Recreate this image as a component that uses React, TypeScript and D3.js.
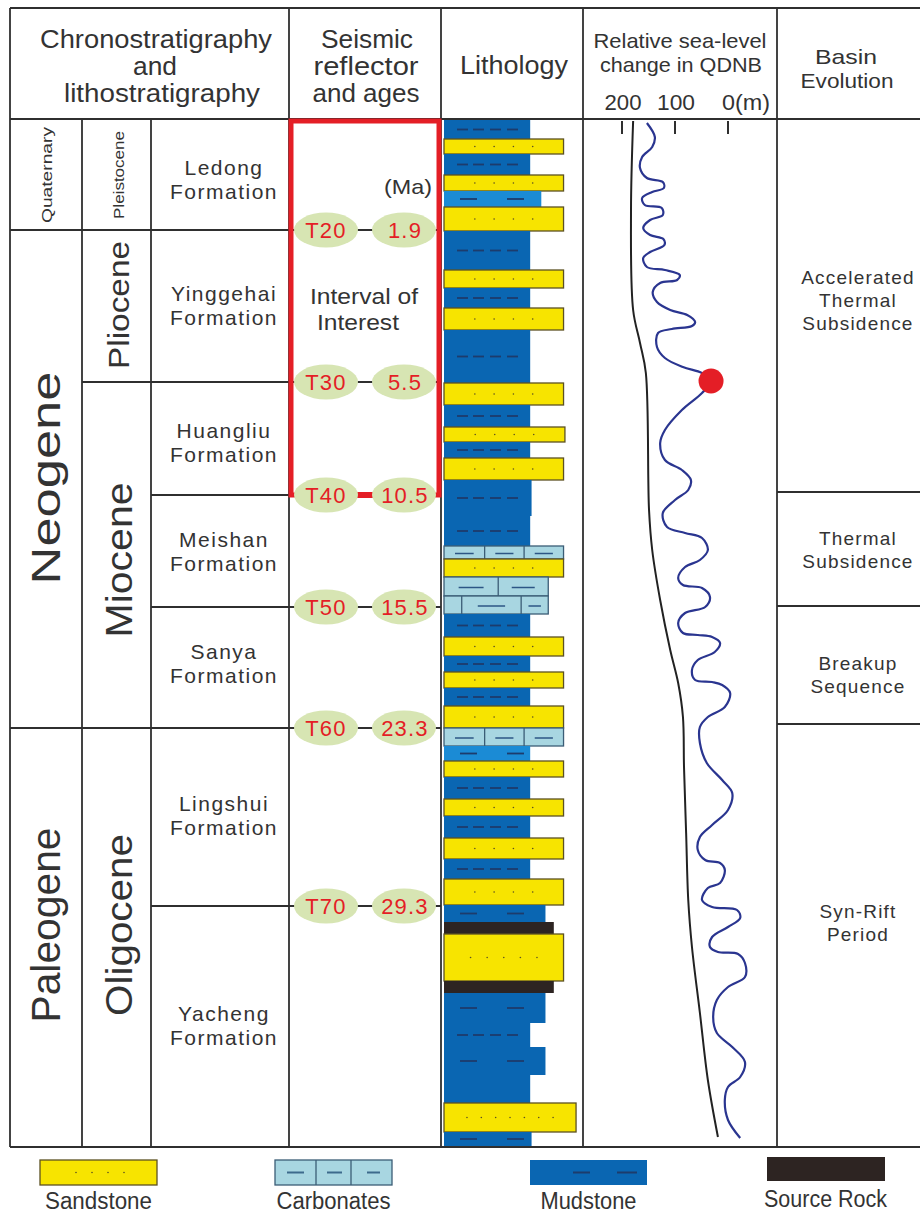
import React from 'react';
import * as d3 from 'd3';

// ---------- DATA (vertical positions in column units, 0 = top of column, 1028 = base) ----------
const periods = [
  { name: 'Quaternary', top: 0, base: 111, labelAt: 56, size: 15, len: 96 },
  { name: 'Neogene', top: 111, base: 609, labelAt: 359, size: 40, len: 213 },
  { name: 'Paleogene', top: 609, base: 1028, labelAt: 806, size: 40, len: 195 },
];
const epochs = [
  { name: 'Pleistocene', top: 0, base: 111, labelAt: 56, size: 14, len: 88 },
  { name: 'Pliocene', top: 111, base: 263, labelAt: 186, size: 29, len: 128 },
  { name: 'Miocene', top: 263, base: 609, labelAt: 441, size: 37, len: 155 },
  { name: 'Oligocene', top: 609, base: 1028, labelAt: 806, size: 37, len: 182 },
];
const formations = [
  { name: 'Ledong', top: 0, base: 111, labelAt: 61 },
  { name: 'Yinggehai', top: 111, base: 263, labelAt: 187 },
  { name: 'Huangliu', top: 263, base: 376, labelAt: 324 },
  { name: 'Meishan', top: 376, base: 488, labelAt: 433 },
  { name: 'Sanya', top: 488, base: 609, labelAt: 545 },
  { name: 'Lingshui', top: 609, base: 787, labelAt: 697 },
  { name: 'Yacheng', top: 787, base: 1028, labelAt: 907 },
];
const reflectors = [
  { name: 'T20', depth: 111, age: '1.9' },
  { name: 'T30', depth: 263, age: '5.5' },
  { name: 'T40', depth: 376, age: '10.5' },
  { name: 'T50', depth: 488, age: '15.5' },
  { name: 'T60', depth: 609, age: '23.3' },
  { name: 'T70', depth: 787, age: '29.3' },
];
const interval = { top: 2, base: 376 };
const basinStages = [
  { lines: ['Accelerated', 'Thermal', 'Subsidence'], top: 0, base: 373, labelAt: 181 },
  { lines: ['Thermal', 'Subsidence'], top: 373, base: 487, labelAt: 430 },
  { lines: ['Breakup', 'Sequence'], top: 487, base: 605, labelAt: 555 },
  { lines: ['Syn-Rift', 'Period'], top: 605, base: 1028, labelAt: 803 },
];
// lithology beds: rock type, top, base, relative width (grain size), mud dash count / carbonate cells
const beds = [
  { rock: 'mud', top: 1, base: 20, w: 0.62, n: 4 },
  { rock: 'sand', top: 20, base: 35, w: 0.86, n: 4 },
  { rock: 'mud', top: 35, base: 56, w: 0.62, n: 4 },
  { rock: 'sand', top: 56, base: 72, w: 0.86, n: 4 },
  { rock: 'mudL', top: 72, base: 88, w: 0.7, n: 2 },
  { rock: 'sand', top: 88, base: 112, w: 0.86, n: 4 },
  { rock: 'mud', top: 112, base: 151, w: 0.62, n: 4 },
  { rock: 'sand', top: 151, base: 169, w: 0.86, n: 4 },
  { rock: 'mud', top: 169, base: 189, w: 0.62, n: 4 },
  { rock: 'sand', top: 189, base: 211, w: 0.86, n: 4 },
  { rock: 'mud', top: 211, base: 264, w: 0.62, n: 4 },
  { rock: 'sand', top: 264, base: 286, w: 0.86, n: 4 },
  { rock: 'mud', top: 286, base: 308, w: 0.62, n: 4 },
  { rock: 'sand', top: 308, base: 323, w: 0.87, n: 4 },
  { rock: 'mud', top: 323, base: 339, w: 0.62, n: 4 },
  { rock: 'sand', top: 339, base: 361, w: 0.86, n: 4 },
  { rock: 'mud', top: 361, base: 397, w: 0.63, n: 4 },
  { rock: 'mud', top: 397, base: 427, w: 0.62, n: 4 },
  { rock: 'carb', top: 427, base: 440, w: 0.86, n: 3 },
  { rock: 'sand', top: 440, base: 458, w: 0.86, n: 4 },
  { rock: 'carb', top: 458, base: 477, w: 0.75, n: 2 },
  { rock: 'carb', top: 477, base: 495, w: 0.75, n: 3 },
  { rock: 'mud', top: 495, base: 518, w: 0.62, n: 4 },
  { rock: 'sand', top: 518, base: 537, w: 0.86, n: 4 },
  { rock: 'mud', top: 537, base: 553, w: 0.62, n: 4 },
  { rock: 'sand', top: 553, base: 569, w: 0.86, n: 4 },
  { rock: 'mud', top: 569, base: 587, w: 0.62, n: 4 },
  { rock: 'sand', top: 587, base: 609, w: 0.86, n: 4 },
  { rock: 'carb', top: 609, base: 627, w: 0.86, n: 3 },
  { rock: 'mudL', top: 627, base: 642, w: 0.62, n: 2 },
  { rock: 'sand', top: 642, base: 658, w: 0.86, n: 4 },
  { rock: 'mud', top: 658, base: 680, w: 0.62, n: 4 },
  { rock: 'sand', top: 680, base: 697, w: 0.86, n: 4 },
  { rock: 'mud', top: 697, base: 719, w: 0.62, n: 4 },
  { rock: 'sand', top: 719, base: 740, w: 0.86, n: 4 },
  { rock: 'mud', top: 740, base: 760, w: 0.62, n: 4 },
  { rock: 'sand', top: 760, base: 786, w: 0.86, n: 4 },
  { rock: 'mud', top: 786, base: 803, w: 0.73, n: 2 },
  { rock: 'src', top: 803, base: 815, w: 0.79, n: 0 },
  { rock: 'sand', top: 815, base: 862, w: 0.86, n: 5 },
  { rock: 'src', top: 862, base: 874, w: 0.79, n: 0 },
  { rock: 'mud', top: 874, base: 904, w: 0.73, n: 2 },
  { rock: 'mud', top: 904, base: 928, w: 0.62, n: 4 },
  { rock: 'mud', top: 928, base: 956, w: 0.73, n: 2 },
  { rock: 'mud', top: 956, base: 984, w: 0.62, n: 0 },
  { rock: 'sand', top: 984, base: 1013, w: 0.95, n: 7 },
  { rock: 'mud', top: 1013, base: 1027, w: 0.63, n: 2 },
];
// relative sea-level (m) vs column position
const seaLevelCurve: [number, number][] = [
  [4, 153], [18, 138], [28, 143], [38, 162], [49, 166], [59, 153], [63, 123], [69, 121], [73, 143],
  [79, 162], [86, 157], [89, 125], [96, 123], [101, 147], [109, 160], [116, 147], [120, 122], [126, 120],
  [133, 147], [139, 160], [148, 153], [151, 119], [156, 91], [161, 96], [164, 128], [173, 142],
  [183, 134], [191, 109], [196, 77], [203, 62], [207, 68], [210, 106], [214, 132], [228, 134],
  [239, 119], [248, 85], [254, 49], [262, 32], [274, 49], [291, 87], [311, 119], [324, 128],
  [341, 119], [351, 87], [361, 70], [371, 75], [381, 100], [394, 123], [408, 115], [414, 81],
  [419, 49], [431, 38], [441, 53], [448, 81], [459, 94], [466, 85], [469, 49], [478, 34], [488, 43],
  [494, 81], [504, 94], [514, 85], [516, 57], [518, 30], [524, 15], [533, 25], [541, 57], [551, 68],
  [561, 62], [563, 30], [566, 11], [574, -4], [588, 6], [598, 38], [608, 53], [624, 53], [644, 40],
  [661, 11], [674, -8], [691, 0], [706, 30], [718, 53], [731, 57], [741, 43], [744, 15], [751, 6],
  [764, 15], [769, 38], [781, 49], [788, 30], [791, -17], [799, -23], [808, 0], [818, 30], [828, 34],
  [833, 19], [835, -19], [844, -32], [858, -32], [868, 0], [881, 21], [898, 28], [914, 21], [928, -8],
  [943, -32], [958, -23], [968, 0], [981, 6], [1001, 0], [1019, -23],
];
const longTermCurve: [number, number][] = [
  [2, 179], [91, 183], [191, 179], [224, 166], [254, 155], [391, 149], [431, 143], [481, 128],
  [531, 109], [564, 94], [598, 85], [648, 83], [714, 79], [781, 75], [828, 68], [894, 53], [961, 38], [1018, 19],
];
const markerPoint = { depth: 262, level: 32 };
const seaTicks = [200, 100, 0];
const seaTickLabels = ['200', '100', '0(m)'];
const legendItems = [
  { rock: 'sand', label: 'Sandstone' },
  { rock: 'carb', label: 'Carbonates' },
  { rock: 'mud', label: 'Mudstone' },
  { rock: 'src', label: 'Source Rock' },
];

// ---------- STYLE ----------
const SANS = "'Liberation Sans', Arial, sans-serif";
const LINE = '#2f2f2f';
const RED = '#e41e26';
const TXT = '#333';
const C = {
  sand: '#f7e400', sandStroke: '#5c5122', mud: '#0a66b2', mudL: '#1b8bd5', dash: '#1d3c6c',
  carb: '#a8d6e1', carbStroke: '#3b5d76', src: '#2d2422', ellipse: '#d7e5b3', blue: '#2a3590',
};

// condensed-looking text: fixed length squeezes glyphs
function NT({ x, y, w, size, children, anchor = 'middle', fill = TXT }: any) {
  return (
    <text
      x={x}
      y={y}
      fontFamily={SANS}
      fontSize={size}
      fill={fill}
      textAnchor={anchor}
      textLength={w}
      lengthAdjust="spacingAndGlyphs"
    >
      {children}
    </text>
  );
}

function Bed({ b, y, xL }: any) {
  const x0 = xL(0);
  const x1 = xL(b.w);
  const y0 = y(b.top);
  const y1 = y(b.base);
  const h = y1 - y0;
  const ym = (y0 + y1) / 2;
  const els: any[] = [];
  if (b.rock === 'sand') {
    els.push(<rect key="r" x={x0} y={y0} width={x1 - x0} height={h} fill={C.sand} stroke={C.sandStroke} strokeWidth={1.3} />);
    for (let i = 0; i < b.n; i++) {
      const cx = x0 + ((x1 - x0) * (i + 1.6)) / (b.n + 2.2);
      els.push(<circle key={'d' + i} cx={cx} cy={ym} r={0.8} fill={C.sandStroke} />);
    }
  } else if (b.rock === 'mud' || b.rock === 'mudL') {
    els.push(<rect key="r" x={x0} y={y0} width={x1 - x0} height={h} fill={b.rock === 'mud' ? C.mud : C.mudL} />);
    const segs = b.n === 4 ? [[13, 11], [29, 11], [46, 11], [63, 11]] : b.n === 2 ? [[16, 17], [63, 17]] : [];
    segs.forEach((s, i) =>
      els.push(<line key={'m' + i} x1={x0 + s[0]} x2={x0 + s[0] + s[1]} y1={ym} y2={ym} stroke={C.dash} strokeWidth={1.8} />)
    );
  } else if (b.rock === 'carb') {
    els.push(<rect key="r" x={x0} y={y0} width={x1 - x0} height={h} fill={C.carb} stroke={C.carbStroke} strokeWidth={1.3} />);
    const wid = x1 - x0;
    let divs: number[];
    if (b.n === 2) divs = [0.52];
    else if (b.top === 477) divs = [0.17, 0.74];
    else divs = [0.34, 0.67];
    divs.forEach((f, i) =>
      els.push(<line key={'v' + i} x1={x0 + f * wid} x2={x0 + f * wid} y1={y0} y2={y1} stroke={C.carbStroke} strokeWidth={1.3} />)
    );
    const edges = [0, ...divs, 1];
    for (let i = 0; i < edges.length - 1; i++) {
      const a = x0 + edges[i] * wid;
      const c = x0 + edges[i + 1] * wid;
      const cw = c - a;
      if (cw < 20) continue;
      els.push(
        <line key={'c' + i} x1={a + cw * 0.27} x2={a + cw * 0.73} y1={ym + 1} y2={ym + 1} stroke="#2d5685" strokeWidth={1.5} />
      );
    }
  } else if (b.rock === 'src') {
    els.push(<rect key="r" x={x0} y={y0} width={x1 - x0} height={h} fill={C.src} />);
  }
  return <g>{els}</g>;
}

export default function App() {
  const W = 920;
  const H = 1213;
  const headTop = 8;
  const colTop = 119;
  const colBase = 1147;
  const X = { left: 10, epoch: 82, fm: 151, seis: 289, lith: 441, sea: 583, basin: 777, right: 920 };

  const y = d3.scaleLinear().domain([0, 1028]).range([colTop, colBase]);
  const xSea = d3.scaleLinear().domain([200, 0]).range([622, 728]);
  const xLith = d3.scaleLinear().domain([0, 1]).range([444, 583]);
  const curve = d3
    .line<[number, number]>()
    .x((p) => xSea(p[1]))
    .y((p) => y(p[0]))
    .curve(d3.curveCatmullRom.alpha(0.5));

  const ellL = 326;
  const ellR = 404;

  const rotLabel = (key: string, text: string, cx: number, cy: number, size: number, len: number) => (
    <text
      key={key}
      transform={`translate(${cx},${cy}) rotate(-90)`}
      textAnchor="middle"
      dominantBaseline="central"
      fontFamily={SANS}
      fontSize={size}
      fill={TXT}
      textLength={len}
      lengthAdjust="spacingAndGlyphs"
    >
      {text}
    </text>
  );

  const tickLabelW = [37, 38, 48];

  return (
    <svg width={W} height={H} style={{ position: 'absolute', left: 0, top: 0, background: '#fff' }}>
      <rect x={0} y={0} width={W} height={H} fill="#fff" />

      {/* header texts */}
      <NT x={156} y={48} w={232} size={26}>Chronostratigraphy</NT>
      <NT x={155} y={75} w={44} size={26}>and</NT>
      <NT x={162} y={102} w={196} size={26}>lithostratigraphy</NT>
      <NT x={367} y={48} w={92} size={26}>Seismic</NT>
      <NT x={366} y={75} w={105} size={26}>reflector</NT>
      <NT x={366} y={102} w={107} size={26}>and ages</NT>
      <NT x={514} y={74} w={108} size={26}>Lithology</NT>
      <NT x={680} y={48} w={173} size={21}>Relative sea-level</NT>
      <NT x={681} y={72} w={162} size={21}>change in QDNB</NT>
      <NT x={846} y={64} w={62} size={21}>Basin</NT>
      <NT x={847} y={88} w={93} size={21}>Evolution</NT>
      {seaTicks.map((t, i) => (
        <NT key={t} x={i === 2 ? 722 : xSea(t) + 1} y={110} w={tickLabelW[i]} size={22} anchor={i === 2 ? 'start' : 'middle'}>
          {seaTickLabels[i]}
        </NT>
      ))}

      {/* lithology beds */}
      {beds.map((b, i) => (
        <Bed key={i} b={b} y={y} xL={xLith} />
      ))}

      {/* grid lines */}
      <g stroke={LINE} strokeWidth={1.8} fill="none">
        <line x1={X.left} x2={X.right} y1={headTop} y2={headTop} />
        <line x1={X.left} x2={X.right} y1={colTop} y2={colTop} />
        <line x1={X.left} x2={X.right} y1={colBase} y2={colBase} />
        {[X.left, X.seis, X.lith, X.sea, X.basin].map((x) => (
          <line key={x} x1={x} x2={x} y1={headTop} y2={colBase} />
        ))}
        {[X.epoch, X.fm].map((x) => (
          <line key={x} x1={x} x2={x} y1={colTop} y2={colBase} />
        ))}
        {periods.slice(1).map((p) => (
          <line key={'p' + p.name} x1={X.left} x2={X.fm} y1={y(p.top)} y2={y(p.top)} />
        ))}
        {epochs.slice(1).map((p) => (
          <line key={'e' + p.name} x1={X.epoch} x2={X.fm} y1={y(p.top)} y2={y(p.top)} />
        ))}
        {reflectors.map((r) => (
          <line key={'r' + r.name} x1={X.fm} x2={X.lith} y1={y(r.depth)} y2={y(r.depth)} />
        ))}
        {basinStages.slice(1).map((s) => (
          <line key={'b' + s.top} x1={X.basin} x2={X.right} y1={y(s.top)} y2={y(s.top)} />
        ))}
      </g>

      {/* period / epoch labels */}
      {periods.map((p) => rotLabel('pl' + p.name, p.name, 46, y(p.labelAt), p.size, p.len))}
      {epochs.map((p) => rotLabel('el' + p.name, p.name, 119, y(p.labelAt), p.size, p.len))}

      {/* formation labels */}
      <g fontFamily={SANS} fill={TXT} textAnchor="middle" fontSize={21} letterSpacing={1.5}>
        {formations.map((f) => (
          <g key={f.name}>
            <text x={224} y={y(f.labelAt) - 5}>{f.name}</text>
            <text x={224} y={y(f.labelAt) + 19}>Formation</text>
          </g>
        ))}
      </g>

      {/* interval of interest */}
      <rect
        x={291}
        y={y(interval.top)}
        width={148}
        height={y(interval.base) - y(interval.top)}
        fill="none"
        stroke={RED}
        strokeWidth={5}
      />
      <line x1={ellL} x2={ellR} y1={y(376)} y2={y(376)} stroke={RED} strokeWidth={6} />
      <NT x={408} y={194} w={48} size={21}>(Ma)</NT>
      <NT x={364} y={304} w={108} size={22}>Interval of</NT>
      <NT x={358} y={330} w={82} size={22}>Interest</NT>

      {/* reflectors */}
      {reflectors.map((r) => (
        <g key={r.name}>
          <ellipse cx={ellL} cy={y(r.depth)} rx={32} ry={17.5} fill={C.ellipse} />
          <ellipse cx={ellR} cy={y(r.depth)} rx={32} ry={17.5} fill={C.ellipse} />
          <text x={ellL} y={y(r.depth) + 8} fontFamily={SANS} fontSize={22} letterSpacing={1.2} fill={RED} textAnchor="middle">
            {r.name}
          </text>
          <text x={ellR + 1} y={y(r.depth) + 8} fontFamily={SANS} fontSize={22} letterSpacing={1.2} fill={RED} textAnchor="middle">
            {r.age}
          </text>
        </g>
      ))}

      {/* sea level */}
      {seaTicks.map((t) => (
        <line key={'t' + t} x1={xSea(t)} x2={xSea(t)} y1={colTop + 2} y2={colTop + 15} stroke={LINE} strokeWidth={2} />
      ))}
      <path d={curve(longTermCurve) || ''} fill="none" stroke="#222" strokeWidth={2} />
      <path d={curve(seaLevelCurve) || ''} fill="none" stroke={C.blue} strokeWidth={2.2} />
      <circle cx={xSea(markerPoint.level)} cy={y(markerPoint.depth)} r={12.5} fill={RED} />

      {/* basin evolution */}
      <g fontFamily={SANS} fill={TXT} textAnchor="middle" fontSize={19} letterSpacing={1.2}>
        {basinStages.map((s) =>
          s.lines.map((l, i) => (
            <text key={s.top + l} x={858} y={y(s.labelAt) + 7 + (i - (s.lines.length - 1) / 2) * 23}>
              {l}
            </text>
          ))
        )}
      </g>

      {/* legend */}
      {legendItems.map((it, i) => {
        const bx = [40, 275, 530, 767][i];
        const by = it.rock === 'src' ? 1157 : 1160;
        const bw = 117;
        const bh = it.rock === 'src' ? 24 : 25;
        const lw = [107, 114, 96, 123][i];
        let body: any;
        if (it.rock === 'sand') {
          body = (
            <g>
              <rect x={bx} y={by} width={bw} height={bh} fill={C.sand} stroke={C.sandStroke} strokeWidth={1.3} />
              {[0, 1, 2, 3].map((k) => (
                <circle key={k} cx={bx + 36 + k * 16} cy={by + bh / 2} r={0.8} fill={C.sandStroke} />
              ))}
            </g>
          );
        } else if (it.rock === 'carb') {
          body = (
            <g>
              <rect x={bx} y={by} width={bw} height={bh} fill={C.carb} stroke={C.carbStroke} strokeWidth={1.3} />
              {[1, 2].map((k) => (
                <line key={k} x1={bx + (k * bw) / 3 - 4 * (k - 1.5)} x2={bx + (k * bw) / 3 - 4 * (k - 1.5)} y1={by} y2={by + bh} stroke={C.carbStroke} strokeWidth={1.3} />
              ))}
              {[0, 1, 2].map((k) => (
                <line key={'d' + k} x1={bx + 12 + k * 40} x2={bx + 29 + k * 38} y1={by + bh / 2} y2={by + bh / 2} stroke="#3d6a8c" strokeWidth={2} />
              ))}
            </g>
          );
        } else if (it.rock === 'mud') {
          body = (
            <g>
              <rect x={bx} y={by} width={bw} height={bh} fill={C.mud} />
              <line x1={bx + 43} x2={bx + 60} y1={by + bh / 2} y2={by + bh / 2} stroke={C.dash} strokeWidth={2} />
              <line x1={bx + 87} x2={bx + 107} y1={by + bh / 2} y2={by + bh / 2} stroke={C.dash} strokeWidth={2} />
            </g>
          );
        } else {
          body = <rect x={bx} y={by} width={bw + 1} height={bh} fill={C.src} />;
        }
        return (
          <g key={it.label}>
            {body}
            <NT x={bx + bw / 2} y={it.rock === 'src' ? 1207 : 1209} w={lw} size={23}>
              {it.label}
            </NT>
          </g>
        );
      })}
    </svg>
  );
}
